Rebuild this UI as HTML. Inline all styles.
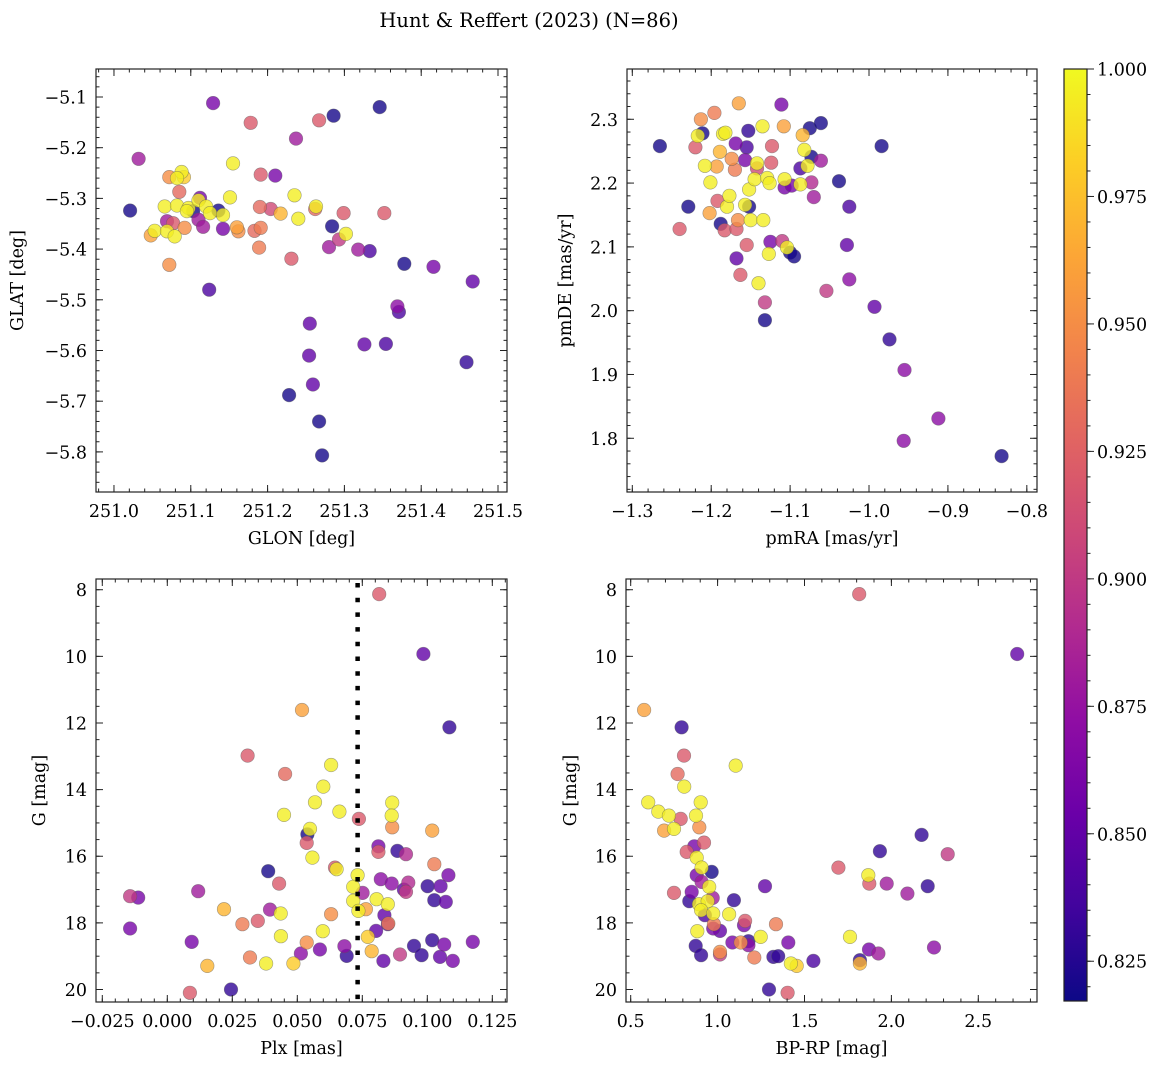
<!DOCTYPE html>
<html><head><meta charset="utf-8"><style>
html,body{margin:0;padding:0;background:#fff;}
svg{display:block;font-family:"DejaVu Serif","Liberation Serif",serif;}
</style></head><body>
<svg id="fig" width="1161" height="1068" viewBox="0 0 1161 1068" xmlns="http://www.w3.org/2000/svg">
<rect width="1161" height="1068" fill="#fff"/>
<text x="529" y="27" font-size="19.5" text-anchor="middle">Hunt &amp; Reffert (2023) (N=86)</text>
<defs><linearGradient id="plasmaGrad" x1="0" y1="1" x2="0" y2="0">
<stop offset="0" stop-color="#0d0887"/><stop offset="0.1" stop-color="#41049d"/><stop offset="0.2" stop-color="#6a00a8"/><stop offset="0.3" stop-color="#8f0da4"/><stop offset="0.4" stop-color="#b12a90"/><stop offset="0.5" stop-color="#cc4778"/><stop offset="0.6" stop-color="#e16462"/><stop offset="0.7" stop-color="#f2844b"/><stop offset="0.8" stop-color="#fca636"/><stop offset="0.9" stop-color="#fcce25"/><stop offset="1" stop-color="#f0f921"/>
</linearGradient></defs>
</svg>
<script>
// ---- Panel 1: GLON / GLAT ----
const glon1 = [251.129,251.286,251.346,251.178,251.267,251.237,251.032,251.155,251.191,251.210,251.072,251.088,251.082,251.091,251.085,251.021,251.151,251.235,251.066,251.082,251.097,251.110,251.112,251.120,251.136,251.125,251.142,251.095,251.103,251.190,251.204,251.217,251.262,251.263,251.240,251.299,251.352,251.069,251.077,251.092,251.110,251.116,251.142,251.160,251.162,251.183,251.191,251.048,251.053,251.069,251.079,251.189,251.284,251.280,251.293,251.302,251.318,251.333,251.231,251.072,251.378,251.416,251.467,251.124,251.369,251.371,251.255,251.326,251.354,251.459,251.254,251.259,251.228,251.267,251.271];
const glat1 = [-5.112,-5.137,-5.120,-5.151,-5.146,-5.182,-5.222,-5.231,-5.253,-5.255,-5.258,-5.248,-5.260,-5.258,-5.287,-5.324,-5.298,-5.294,-5.316,-5.314,-5.319,-5.304,-5.299,-5.316,-5.324,-5.329,-5.333,-5.325,-5.325,-5.317,-5.321,-5.330,-5.321,-5.316,-5.340,-5.329,-5.329,-5.345,-5.349,-5.358,-5.342,-5.356,-5.360,-5.357,-5.365,-5.364,-5.358,-5.373,-5.364,-5.365,-5.375,-5.397,-5.355,-5.396,-5.381,-5.370,-5.401,-5.404,-5.419,-5.431,-5.429,-5.435,-5.464,-5.480,-5.513,-5.524,-5.547,-5.588,-5.587,-5.623,-5.610,-5.667,-5.688,-5.740,-5.807];
const prob1 = [.86,.82,.82,.92,.92,.88,.88,.995,.92,.86,.95,.995,.995,.98,.93,.82,.995,.995,.995,.995,.995,.995,.86,.995,.82,.995,.995,.995,.82,.93,.91,.97,.93,.995,.995,.92,.92,.88,.92,.95,.88,.88,.86,.96,.95,.93,.94,.96,.995,.995,.995,.94,.82,.88,.90,.995,.88,.84,.92,.95,.82,.86,.85,.84,.87,.84,.85,.85,.84,.83,.85,.85,.82,.82,.82];
// ---- Panel 2: pmRA / pmDE ----
const pmra2 = [-1.265,-1.240,-1.229,-1.213,-1.211,-1.217,-1.220,-1.196,-1.208,-1.201,-1.202,-1.192,-1.189,-1.193,-1.185,-1.182,-1.180,-1.177,-1.188,-1.183,-1.168,-1.166,-1.174,-1.170,-1.165,-1.168,-1.163,-1.169,-1.153,-1.155,-1.157,-1.152,-1.157,-1.152,-1.150,-1.155,-1.142,-1.142,-1.145,-1.135,-1.134,-1.140,-1.132,-1.132,-1.129,-1.126,-1.124,-1.123,-1.125,-1.127,-1.111,-1.108,-1.107,-1.107,-1.110,-1.104,-1.100,-1.095,-1.098,-1.087,-1.087,-1.084,-1.082,-1.075,-1.078,-1.073,-1.073,-1.070,-1.061,-1.061,-1.054,-1.038,-1.025,-1.028,-1.025,-0.993,-0.984,-0.974,-0.955,-0.956,-0.912,-0.832];
const pmde2 = [2.258,2.128,2.163,2.300,2.278,2.274,2.256,2.310,2.227,2.201,2.153,2.172,2.249,2.226,2.277,2.279,2.163,2.180,2.136,2.126,2.128,2.142,2.238,2.221,2.325,2.082,2.056,2.262,2.282,2.256,2.236,2.163,2.166,2.190,2.142,2.103,2.223,2.231,2.206,2.289,2.142,2.043,2.013,1.985,2.208,2.200,2.232,2.258,2.108,2.089,2.323,2.289,2.193,2.206,2.109,2.099,2.091,2.085,2.196,2.198,2.223,2.275,2.252,2.286,2.227,2.241,2.201,2.178,2.294,2.235,2.031,2.203,2.163,2.103,2.049,2.006,2.258,1.955,1.907,1.796,1.831,1.772];
const prob2 = [.82,.92,.82,.95,.82,.995,.92,.94,.995,.995,.96,.92,.97,.96,.995,.995,.995,.995,.82,.92,.92,.95,.95,.94,.96,.85,.92,.86,.83,.84,.86,.82,.995,.995,.995,.92,.91,.995,.995,.995,.995,.995,.90,.82,.995,.995,.92,.92,.86,.995,.86,.96,.86,.995,.90,.995,.82,.82,.86,.995,.84,.97,.995,.82,.995,.82,.89,.88,.82,.88,.90,.82,.84,.85,.87,.85,.82,.83,.87,.87,.87,.82];
// ---- Panel 3: Plx / G ----
const plx3 = [0.0815,0.0985,0.1085,0.0518,0.0309,0.0453,0.0630,0.0600,0.0568,0.0449,0.0662,0.0737,0.0865,0.0863,0.0865,0.1019,0.0539,0.0549,0.0536,0.0558,0.0812,0.0812,0.0885,0.0918,0.1027,0.0388,0.0645,0.0651,0.0430,0.0732,0.0821,0.0863,0.0927,0.1081,0.1001,0.1051,0.0715,0.0751,0.0918,0.0910,-0.0143,-0.0112,0.0119,0.0715,0.0805,0.0848,0.1027,0.1071,0.0735,0.0764,0.0218,0.0395,0.0436,0.0630,0.0835,0.0850,0.0848,-0.0143,0.0289,0.0348,0.0803,0.0771,0.0598,0.0437,0.0094,0.0536,0.1019,0.1065,0.1175,0.0949,0.0681,0.0587,0.0514,0.0690,0.0786,0.0895,0.0978,0.1049,0.1098,0.0831,0.0318,0.0154,0.0380,0.0485,0.0087,0.0245];
const g3 = [8.13,9.93,12.13,11.61,12.98,13.53,13.26,13.91,14.38,14.76,14.66,14.88,14.39,14.78,15.13,15.23,15.34,15.18,15.60,16.04,15.70,15.87,15.84,15.94,16.24,16.45,16.34,16.39,16.82,16.57,16.69,16.82,16.79,16.57,16.90,16.90,16.92,17.10,17.07,17.00,17.20,17.24,17.05,17.34,17.29,17.44,17.32,17.37,17.64,17.59,17.59,17.60,17.72,17.74,17.77,18.02,18.04,18.17,18.04,17.94,18.24,18.42,18.25,18.40,18.57,18.59,18.52,18.65,18.57,18.69,18.70,18.80,18.92,18.99,18.85,18.95,18.97,19.02,19.14,19.14,19.04,19.29,19.22,19.22,20.10,20.00];
const prob3 = [.92,.85,.83,.96,.92,.93,.995,.995,.995,.995,.995,.92,.995,.995,.95,.96,.82,.995,.92,.995,.86,.92,.83,.89,.94,.82,.92,.995,.92,.995,.87,.87,.89,.86,.83,.85,.995,.88,.90,.85,.90,.86,.88,.995,.995,.995,.83,.85,.995,.96,.97,.88,.995,.95,.85,.94,.85,.86,.94,.92,.85,.98,.995,.995,.86,.95,.83,.86,.86,.83,.87,.86,.87,.83,.97,.90,.83,.85,.86,.85,.94,.97,.995,.98,.92,.83];
// ---- Panel 4: BP-RP / G ----
const bprp4 = [1.815,2.724,0.577,0.793,0.807,0.770,1.104,0.808,0.601,0.659,0.720,0.788,0.903,0.876,0.895,0.692,0.749,0.922,0.822,0.866,0.880,0.908,0.966,0.880,0.908,0.952,0.851,0.749,0.837,0.972,0.893,0.943,0.905,0.927,0.975,1.066,1.094,1.273,0.979,0.975,1.014,0.883,1.158,1.152,1.336,1.248,1.085,1.133,1.177,1.177,0.874,0.905,1.014,1.014,1.211,1.321,1.349,1.407,1.422,1.455,1.551,1.296,1.403,1.695,1.867,1.873,1.762,1.819,1.819,1.871,1.925,1.934,1.973,2.092,2.174,2.209,2.324,2.245];
const g4 = [8.13,9.93,11.61,12.13,12.98,13.53,13.28,13.91,14.38,14.66,14.78,14.88,14.38,14.78,15.13,15.23,15.18,15.59,15.87,15.70,16.04,16.34,16.47,16.57,16.77,16.92,17.07,17.10,17.35,17.25,17.44,17.35,17.62,17.77,17.72,17.74,17.32,16.90,18.04,18.17,18.24,18.25,17.94,18.07,18.04,18.42,18.59,18.59,18.55,18.67,18.69,18.97,18.87,18.95,19.04,19.02,19.00,18.59,19.22,19.29,19.14,20.00,20.10,16.34,16.57,16.82,18.42,19.12,19.22,18.80,18.92,15.85,16.82,17.12,15.36,16.90,15.94,18.74];
const prob4 = [.92,.85,.96,.83,.92,.93,.995,.995,.995,.995,.995,.92,.995,.995,.95,.96,.995,.92,.92,.86,.995,.995,.82,.86,.88,.995,.86,.92,.83,.88,.995,.995,.995,.84,.995,.995,.83,.85,.94,.86,.85,.995,.92,.86,.94,.995,.86,.95,.83,.87,.83,.83,.95,.90,.94,.83,.83,.86,.995,.98,.84,.83,.92,.92,.995,.92,.995,.83,.97,.86,.88,.83,.88,.88,.83,.83,.90,.87];
// ---- Colour scale ----
const vmin = 0.8172, vmax = 1.0;
const cbTicks = [0.825,0.850,0.875,0.900,0.925,0.950,0.975,1.000];
const plasma = ["#0d0887","#41049d","#6a00a8","#8f0da4","#b12a90","#cc4778","#e16462","#f2844b","#fca636","#fcce25","#f0f921"];

const NS = "http://www.w3.org/2000/svg";
const svg = document.getElementById("fig");
const FS = 17.5;
function mk(tag, attrs, parent){const e=document.createElementNS(NS,tag);for(const k in attrs)e.setAttribute(k,attrs[k]);(parent||svg).appendChild(e);return e;}
function hex(c){return [parseInt(c.substr(1,2),16),parseInt(c.substr(3,2),16),parseInt(c.substr(5,2),16)];}
function cmap(v){let t=(v-vmin)/(vmax-vmin);t=Math.max(0,Math.min(1,t));const s=t*10,i=Math.min(9,Math.floor(s)),f=s-i;const a=hex(plasma[i]),b=hex(plasma[i+1]);return "rgb("+a.map((x,k)=>Math.round(x+(b[k]-x)*f)).join(",")+")";}
function fmt(v,d){const s=Math.abs(v).toFixed(d);return (v<-1e-9?"\u2212":"")+s;}
function range(a,b,s){const r=[];const n=Math.round((b-a)/s);for(let i=0;i<=n;i++)r.push(a+i*s);return r;}

function panel(c){
  const g=mk("g",{});
  
  
  const X=v=>c.l+(v-c.x0)/(c.x1-c.x0)*(c.r-c.l);
  const Y=v=>c.t+(v-c.y0)/(c.y1-c.y0)*(c.b-c.t);
  const idx=c.xs.map((_,i)=>i).slice(0,Math.min(c.xs.length,c.ys.length,c.ps.length));
  idx.sort((a,b)=>c.ps[a]-c.ps[b]);
  const pg=mk("g",{},g);
  
  
  idx.forEach(i=>{
    const p=mk("circle",{cx:X(c.xs[i]).toFixed(1),cy:Y(c.ys[i]).toFixed(1),r:6.8,fill:cmap(c.ps[i]),"fill-opacity":0.8,stroke:"rgba(90,90,90,0.55)","stroke-width":0.6},pg);
    
    
  });
  if(c.vline!==undefined){
    const vl=mk("line",{x1:X(c.vline),x2:X(c.vline),y1:c.t+4,y2:c.b,stroke:"#000","stroke-width":4.5,"stroke-dasharray":"4.5 10.2"},g);
    
    
  }
  const fr=mk("rect",{x:c.l,y:c.t,width:c.r-c.l,height:c.b-c.t,fill:"none",stroke:"#222","stroke-width":1.2},g);
  
  
  const tk=mk("g",{stroke:"#222","stroke-width":1},g);
  const lo=Math.min(c.x0,c.x1),hi=Math.max(c.x0,c.x1),ylo=Math.min(c.y0,c.y1),yhi=Math.max(c.y0,c.y1);
  c.xminor.forEach(v=>{if(v<lo||v>hi)return;const x=X(v);mk("line",{x1:x,x2:x,y1:c.b,y2:c.b-3.5},tk);mk("line",{x1:x,x2:x,y1:c.t,y2:c.t+3.5},tk);});
  c.yminor.forEach(v=>{if(v<ylo||v>yhi)return;const y=Y(v);mk("line",{x1:c.l,x2:c.l+3.5,y1:y,y2:y},tk);mk("line",{x1:c.r,x2:c.r-3.5,y1:y,y2:y},tk);});
  c.xmajor.forEach(v=>{const x=X(v);mk("line",{x1:x,x2:x,y1:c.b,y2:c.b-7},tk);mk("line",{x1:x,x2:x,y1:c.t,y2:c.t+7},tk);
    const t=mk("text",{x:x,y:c.b+25,"font-size":FS,"text-anchor":"middle"},g);t.textContent=fmt(v,c.xd);
    
    });
  c.ymajor.forEach(v=>{const y=Y(v);mk("line",{x1:c.l,x2:c.l+7,y1:y,y2:y},tk);mk("line",{x1:c.r,x2:c.r-7,y1:y,y2:y},tk);
    const t=mk("text",{x:c.l-9,y:y+6.5,"font-size":FS,"text-anchor":"end"},g);t.textContent=fmt(v,c.yd);
    
    });
  const xl=mk("text",{x:(c.l+c.r)/2,y:c.b+52,"font-size":FS,"text-anchor":"middle"},g);xl.textContent=c.xlabel;
  
  
  const yl=mk("text",{x:0,y:0,"font-size":FS,"text-anchor":"middle",transform:"translate("+c.ylx+","+(c.t+c.b)/2+") rotate(-90)"},g);yl.textContent=c.ylabel;
  
  
}

panel({name:"glon-glat-panel",l:96,r:507,t:69,b:492,x0:250.9766,x1:251.5117,y0:-5.0448,y1:-5.8791,
  xs:glon1,ys:glat1,ps:prob1,xmajor:range(251.0,251.5,0.1),xminor:range(250.98,251.52,0.02),
  ymajor:range(-5.8,-5.1,0.1),yminor:range(-5.88,-5.04,0.02),xd:1,yd:1,xlabel:"GLON [deg]",ylabel:"GLAT [deg]",ylx:23});
panel({name:"proper-motion-panel",l:627,r:1037,t:69,b:492,x0:-1.30672,x1:-0.7871,y0:2.3788,y1:1.7158,
  xs:pmra2,ys:pmde2,ps:prob2,xmajor:range(-1.3,-0.8,0.1),xminor:range(-1.30,-0.78,0.02),
  ymajor:range(1.8,2.3,0.1),yminor:range(1.72,2.38,0.02),xd:1,yd:1,xlabel:"pmRA [mas/yr]",ylabel:"pmDE [mas/yr]",ylx:571});
panel({name:"parallax-magnitude-panel",l:96,r:507,t:579,b:1002,x0:-0.02742,x1:0.13065,y0:7.678,y1:20.375,
  xs:plx3,ys:g3,ps:prob3,xmajor:range(-0.025,0.125,0.025),xminor:range(-0.025,0.130,0.005),
  ymajor:range(8,20,2),yminor:range(8,20,0.5),xd:3,yd:0,xlabel:"Plx [mas]",ylabel:"G [mag]",ylx:45,vline:0.0732});
panel({name:"color-magnitude-panel",l:626,r:1037,t:579,b:1002,x0:0.473,x1:2.8378,y0:7.678,y1:20.375,
  xs:bprp4,ys:g4,ps:prob4,xmajor:range(0.5,2.5,0.5),xminor:range(0.5,2.8,0.1),
  ymajor:range(8,20,2),yminor:range(8,20,0.5),xd:1,yd:0,xlabel:"BP-RP [mag]",ylabel:"G [mag]",ylx:576});

const cb=mk("g",{});


const cbt=69,cbb=1001,cbl=1064,cbr=1087;
mk("rect",{x:cbl,y:cbt,width:cbr-cbl,height:cbb-cbt,fill:"url(#plasmaGrad)",stroke:"#222","stroke-width":1.2},cb);
const CY=v=>cbb-(v-vmin)/(vmax-vmin)*(cbb-cbt);
range(0.820,1.0,0.005).forEach(v=>{if(v<vmin)return;const y=CY(v);mk("line",{x1:cbr,x2:cbr+3.5,y1:y,y2:y,stroke:"#222"},cb);});
cbTicks.forEach(v=>{const y=CY(v);mk("line",{x1:cbr,x2:cbr+7,y1:y,y2:y,stroke:"#222"},cb);
  const t=mk("text",{x:cbr+10,y:y+6.5,"font-size":FS},cb);t.textContent=v.toFixed(3);
  
  });
</script>
</body></html>
